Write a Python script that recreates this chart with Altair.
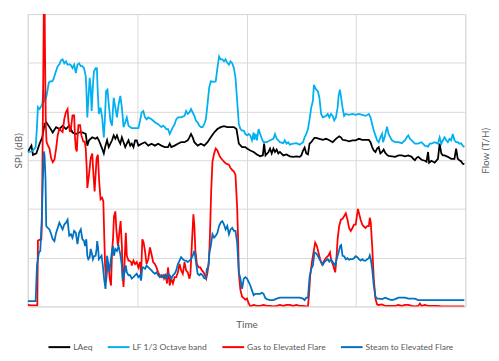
import altair as alt
import pandas as pd

SERIES = ["LAeq", "LF 1/3 Octave band", "Gas to Elevated Flare", "Steam to Elevated Flare"]
COLORS = ["#000000", "#00B0F0", "#FF0000", "#0070C0"]

# (time, value) pairs; y in gridline units (0-6)
LAEQ = [
    (0, 3.17), (3.7, 3.30), (5.3, 3.11), (8.7, 3.14), (12, 3.34), (14.7, 3.47), (17, 3.74), (18.7, 3.78),
    (22, 3.68), (25.3, 3.57), (28.7, 3.68), (32, 3.64), (35.3, 3.71), (38.7, 3.64), (42, 3.71), (45.3, 3.57),
    (48.7, 3.54), (52, 3.57), (55.3, 3.57), (58.7, 3.54), (60.3, 3.30), (62, 3.41), (65.3, 3.47), (68.7, 3.44),
    (70.3, 3.47), (72, 3.41), (75.3, 3.24), (77, 3.14), (78.7, 3.30), (80.3, 3.41), (82, 3.27), (85.3, 3.41),
    (87, 3.51), (88.7, 3.44), (90.3, 3.51), (92, 3.41), (93.7, 3.34), (95.3, 3.47), (97, 3.37), (98.7, 3.27),
    (100.3, 3.34), (102, 3.41), (103.7, 3.30), (105.3, 3.34), (107, 3.27), (108.7, 3.41), (110.3, 3.41),
    (112, 3.30), (115.3, 3.34), (118.7, 3.37), (122, 3.30), (125.3, 3.34), (128.7, 3.30), (132, 3.34),
    (135.3, 3.30), (138.7, 3.27), (142, 3.27), (143.7, 3.34), (145.3, 3.27), (148.7, 3.30), (152, 3.34),
    (155.3, 3.37), (158.7, 3.37), (162, 3.41), (163.7, 3.47), (165.3, 3.54), (167, 3.47), (168.7, 3.37),
    (172, 3.30), (175.3, 3.34), (178.7, 3.30), (182, 3.37), (185.3, 3.47), (188.7, 3.57), (192, 3.64),
    (195.3, 3.68), (198.7, 3.70), (202, 3.68), (205.3, 3.68), (208.7, 3.68), (211.3, 3.64), (213.7, 3.34),
    (217, 3.27), (220.3, 3.27), (222, 3.24), (225.3, 3.20), (228.7, 3.17), (232, 3.12), (235.3, 3.08),
    (238, 3.10), (239.3, 3.34), (240.7, 3.10), (243.7, 3.17), (245.3, 3.24), (247, 3.14), (248.7, 3.24),
    (250.3, 3.17), (252, 3.22), (253.7, 3.14), (255.3, 3.17), (258.7, 3.10), (262, 3.12), (265.3, 3.08),
    (268.7, 3.07), (272, 3.08), (275.3, 3.07), (277, 3.10), (278.7, 3.20), (280.3, 3.26), (282, 3.14),
    (283.7, 3.12), (285.3, 3.34), (287, 3.37), (288.7, 3.42), (290.3, 3.46), (292, 3.46), (295.3, 3.44),
    (298.7, 3.42), (302, 3.44), (305.3, 3.41), (308.7, 3.37), (312, 3.44), (315.3, 3.49), (317, 3.47),
    (318.7, 3.42), (322, 3.41), (325.3, 3.39), (328.7, 3.41), (332, 3.41), (335.3, 3.44), (338.7, 3.42),
    (342, 3.42), (345.3, 3.42), (347, 3.37), (348.7, 3.27), (350.3, 3.20), (352, 3.17), (353.7, 3.24),
    (355.3, 3.27), (357, 3.14), (358.7, 3.17), (360.3, 3.22), (362, 3.15), (363.7, 3.11), (365.3, 3.09),
    (368.7, 3.08), (372, 3.07), (375.3, 3.10), (378.7, 3.10), (382, 3.08), (385.3, 3.10), (388.7, 3.07),
    (390.3, 3.03), (392, 3.00), (393.7, 3.05), (395.3, 3.07), (398.7, 3.01), (402, 2.99), (403.7, 2.97),
    (405.3, 3.17), (406.3, 2.95), (408.7, 2.99), (412, 2.95), (415.3, 3.03), (417, 3.34), (418.7, 3.14),
    (420.3, 3.10), (422, 3.10), (425.3, 3.07), (428.7, 3.03), (432, 3.03), (433.7, 3.24), (435.3, 3.03),
    (437, 3.00), (438.7, 2.98), (440.3, 2.93), (442, 2.92),
]

LF = [
    (0, 3.17), (2, 3.17), (5.3, 3.20), (8, 3.27), (9.3, 3.68), (10.3, 4.09), (12, 4.05), (13.7, 4.11),
    (14.7, 4.15), (16, 4.45), (17, 4.22), (18, 4.25), (19.3, 4.35), (21.3, 4.59), (22.7, 4.62), (24.7, 4.62),
    (26, 4.66), (28, 4.79), (30.3, 4.93), (32, 4.97), (33.7, 5.05), (35.3, 5.07), (37, 4.99), (38.7, 5.03),
    (40.3, 4.96), (42, 4.97), (43.7, 4.95), (45.3, 4.89), (47, 4.96), (48.7, 4.79), (50.3, 4.96), (52, 4.99),
    (53.7, 4.93), (55.3, 4.93), (57, 4.89), (58.7, 4.72), (59.3, 4.49), (60.3, 3.88), (61.3, 4.22),
    (62.7, 4.69), (63.7, 4.49), (64.7, 4.01), (66, 4.55), (67, 4.82), (68.7, 4.89), (70, 4.89), (70.7, 4.49),
    (72, 3.95), (73.7, 4.08), (75.3, 3.88), (77, 3.47), (78, 3.81), (79.3, 4.42), (80.7, 4.45), (82, 4.15),
    (83.7, 3.81), (85.3, 3.71), (87, 4.28), (88.7, 4.08), (90.3, 3.88), (92, 4.15), (93.7, 4.32), (95.3, 4.08),
    (97, 3.68), (98.7, 3.78), (100.3, 3.88), (102, 3.71), (103.7, 3.68), (105.3, 3.66), (108.7, 3.66),
    (112, 3.66), (113.7, 3.81), (115.3, 3.98), (117, 4.01), (118.7, 3.88), (120.3, 3.84), (122, 3.88),
    (125.3, 3.84), (128.7, 3.78), (132, 3.74), (135.3, 3.68), (137, 3.71), (138.7, 3.68), (140.3, 3.64),
    (142, 3.64), (143.7, 3.54), (145.3, 3.61), (147, 3.68), (148.7, 3.74), (150.3, 3.84), (152, 3.88),
    (155.3, 3.88), (158.7, 3.91), (160.3, 4.01), (162, 3.95), (163.7, 3.98), (165.3, 4.05), (167, 3.98),
    (168.7, 3.91), (170.3, 3.81), (172, 3.78), (173.7, 3.71), (175.3, 3.68), (177, 3.68), (178.7, 3.74),
    (180.3, 3.84), (182, 4.15), (183.7, 4.49), (185.3, 4.62), (188.7, 4.61), (190.3, 4.62), (192, 4.89),
    (193.7, 5.13), (195.3, 5.07), (197, 5.07), (198.7, 5.03), (200.3, 5.07), (202, 5.00), (203.7, 4.96),
    (205.3, 5.03), (207, 4.99), (208.7, 4.89), (210.3, 4.69), (212, 4.22), (213.7, 3.74), (215.3, 3.64),
    (217, 3.61), (218.7, 3.61), (220.3, 3.54), (222, 3.51), (223.7, 3.54), (225.3, 3.51), (227, 3.41),
    (228.7, 3.57), (229.3, 3.42), (230.7, 3.54), (232, 3.41), (233.7, 3.64), (235.3, 3.54), (237, 3.44),
    (238.7, 3.37), (242, 3.37), (245.3, 3.41), (248.7, 3.44), (250.3, 3.54), (252, 3.44), (253.7, 3.41),
    (255.3, 3.37), (258.7, 3.35), (260.3, 3.41), (262, 3.34), (263.7, 3.37), (265.3, 3.32), (268.7, 3.34),
    (272, 3.35), (275.3, 3.32), (278.7, 3.37), (280.3, 3.47), (282, 3.54), (283.7, 3.64), (285.3, 3.84),
    (287, 4.08), (288.7, 4.22), (289.7, 4.55), (290.3, 4.52), (292, 4.45), (293.7, 4.42), (295.3, 4.28),
    (297, 3.95), (298.7, 3.88), (302, 3.91), (303.7, 3.95), (305.3, 3.88), (307, 3.95), (308.7, 3.91),
    (310.3, 3.82), (312, 3.88), (313.7, 4.08), (314.7, 4.32), (316, 4.45), (317, 4.32), (318.7, 4.08),
    (320.3, 3.91), (322, 3.95), (325.3, 3.93), (328.7, 3.95), (332, 3.93), (335.3, 3.95), (338.7, 3.93),
    (342, 3.91), (345.3, 3.95), (347, 3.88), (348.7, 3.74), (350.3, 3.61), (352, 3.51), (353.7, 3.41),
    (355.3, 3.37), (357, 3.47), (358.7, 3.54), (359.7, 3.37), (361.3, 3.47), (363.7, 3.69), (365.3, 3.54),
    (367, 3.47), (368.7, 3.41), (372, 3.37), (375.3, 3.37), (378.7, 3.35), (382, 3.41), (383.7, 3.47),
    (385.3, 3.51), (387, 3.44), (388.7, 3.41), (392, 3.34), (395.3, 3.34), (398.7, 3.37), (402, 3.30),
    (405.3, 3.28), (407, 3.34), (408.7, 3.34), (412, 3.37), (415.3, 3.34), (417, 3.47), (418.7, 3.34),
    (420.3, 3.41), (422, 3.47), (423.7, 3.41), (425.3, 3.37), (427, 3.44), (428.7, 3.41), (430.3, 3.54),
    (432, 3.41), (433.7, 3.37), (435.3, 3.37), (437, 3.34), (438.7, 3.35), (440.3, 3.30), (442, 3.27),
]

GAS = [
    (0, 0.03), (3.7, 0.02), (7, 0.02), (9.7, 0.02), (10.3, 1.35), (12, 1.37), (13.7, 1.37), (14.3, 1.69),
    (15, 3.18), (15.7, 4.73), (16.3, 6.3), (17, 6.3), (17.7, 4.73), (18.3, 3.72), (19, 3.38), (20.3, 3.31),
    (22, 3.24), (23.7, 3.04), (25.3, 2.96), (27, 3.01), (28.7, 3.24), (30.3, 3.51), (32, 3.65), (33.7, 3.61),
    (35.3, 3.58), (37, 3.85), (38.7, 3.99), (40.3, 4.05), (41.3, 3.78), (42.7, 3.58), (43.7, 3.65),
    (45.3, 3.92), (47, 3.92), (47.7, 3.51), (48.7, 3.24), (49.7, 3.18), (50.3, 3.45), (51.3, 3.72),
    (53, 3.72), (54.3, 3.51), (56.3, 3.38), (57.7, 3.38), (58.7, 3.24), (59.7, 2.84), (60.3, 2.43),
    (62, 2.70), (63.7, 3.04), (65.3, 3.14), (66.3, 2.77), (67.7, 2.36), (68.7, 2.70), (69.7, 3.04),
    (71, 3.11), (72.3, 2.57), (73.7, 2.20), (75.3, 2.23), (76.5, 2.16), (77.5, 1.40), (78.3, 0.84),
    (79.3, 0.50), (80.7, 0.87), (82, 0.80), (83, 0.57), (84.3, 0.43), (85.3, 1.11), (86.3, 1.38),
    (87.3, 1.85), (88.7, 1.95), (89.7, 1.58), (91.3, 1.24), (92.7, 1.51), (94, 1.75), (95.3, 1.24),
    (96, 0.64), (97, 0.40), (98, 0.91), (99.3, 1.51), (100.3, 1.04), (102, 0.94), (103, 0.94),
    (104.7, 0.91), (105.3, 0.84), (107, 0.94), (108.7, 0.87), (110.3, 0.91), (112, 0.80), (113.7, 0.91),
    (114.7, 0.64), (116, 1.38), (117.3, 1.31), (118.7, 1.14), (120.3, 0.87), (122, 0.97), (123.7, 1.21),
    (125.3, 1.07), (127, 0.91), (128.7, 0.87), (130.3, 0.80), (132, 0.70), (133.7, 0.64), (135.3, 0.60),
    (137, 0.64), (138, 0.57), (139.7, 0.64), (141, 0.47), (142, 0.80), (143, 0.60), (143.7, 0.43),
    (145.3, 0.57), (147, 0.47), (148.7, 0.60), (150.3, 0.60), (152, 0.70), (153.7, 0.87), (155.3, 0.74),
    (157, 0.67), (158.7, 0.91), (160.3, 0.74), (162, 0.70), (163.7, 0.57), (164.7, 0.67), (166.3, 1.34),
    (167.7, 1.89), (168.7, 1.65), (169.7, 1.14), (171.3, 0.87), (173, 0.80), (174.7, 0.80), (176.3, 0.74),
    (178, 0.70), (179.3, 0.64), (180.7, 0.57), (182, 0.70), (183.3, 0.90), (184.3, 1.35), (185.7, 2.36),
    (187, 2.97), (188.7, 3.14), (190.3, 3.24), (192, 3.20), (193.7, 3.11), (195.3, 3.05), (197, 3.01),
    (198.7, 2.97), (200.3, 2.94), (202, 2.92), (203.7, 2.91), (205.3, 2.84), (207, 2.80), (208.7, 2.77),
    (210.3, 2.70), (212, 2.03), (213, 1.35), (213.7, 0.68), (215.3, 0.34), (217, 0.20), (218.7, 0.17),
    (220.3, 0.14), (222, 0.16), (223.7, 0.06), (225.3, 0.0), (228.7, 0.03), (232, 0.01), (235.3, 0.01),
    (238.7, 0.03), (242, 0.01), (245.3, 0.01), (248.7, 0.0), (252, 0.01), (255.3, 0.03), (258.7, 0.01),
    (262, 0.03), (265.3, 0.03), (268.7, 0.01), (272, 0.03), (275.3, 0.01), (278.7, 0.01), (282, 0.0),
    (283.7, 0.0), (284.7, 0.23), (286, 0.64), (287.7, 0.91), (289.3, 1.11), (291, 1.31), (292.7, 1.24),
    (294.3, 1.11), (296, 0.97), (297.7, 0.87), (299.3, 0.91), (301, 0.97), (302.7, 1.01), (304.3, 1.04),
    (306, 1.11), (307, 0.97), (308, 0.91), (309.3, 0.84), (310.3, 0.77), (311.3, 0.70), (312.7, 1.04),
    (313.7, 1.38), (315.3, 1.65), (317, 1.78), (318.7, 1.80), (320.3, 1.85), (322, 1.91), (323.7, 1.78),
    (325.3, 1.61), (327, 1.55), (328.7, 1.61), (330.3, 1.68), (332, 1.68), (333, 1.82), (334.3, 2.00),
    (335.3, 1.92), (337, 1.78), (338.7, 1.68), (340.3, 1.64), (342, 1.61), (343.7, 1.65), (345.3, 1.65),
    (346.3, 1.82), (347.3, 1.72), (348.7, 1.24), (350.3, 0.57), (352, 0.16), (353.7, 0.04), (355.3, 0.03),
    (358.7, 0.04), (362, 0.01), (365.3, 0.01), (368.7, 0.01), (372, 0.01), (375.3, 0.03), (378.7, 0.01),
    (382, 0.03), (385.3, 0.03), (388.7, 0.01), (392, 0.0), (395.3, 0.01), (397, 0.06), (398.7, 0.01),
    (402, 0.03), (405.3, 0.01), (408.7, 0.01), (412, 0.01), (415.3, 0.01), (418.7, 0.0), (422, 0.0),
    (425.3, 0.0), (428.7, 0.0), (432, 0.0), (435.3, 0.0), (438.7, 0.0), (442, 0.0),
]

STEAM = [
    (0, 0.11), (8, 0.11), (9.3, 0.84), (10.3, 0.97), (11.3, 1.11), (12.7, 1.14), (14.3, 1.85), (15.3, 2.6),
    (16.3, 3.18), (17, 3.1), (18, 2.6), (18.7, 1.65), (20.3, 1.61), (22, 1.58), (23.7, 1.48), (25.3, 1.38),
    (27, 1.34), (28.7, 1.51), (30.3, 1.61), (32, 1.72), (33.7, 1.65), (35.3, 1.58), (37, 1.68), (38.7, 1.72),
    (40.3, 1.78), (42, 1.45), (43.7, 1.48), (45.3, 1.41), (47, 1.55), (48.7, 1.51), (50.3, 1.28), (52, 1.51),
    (53.7, 1.58), (55.3, 1.38), (57, 1.34), (58, 1.24), (59.3, 1.38), (60.3, 1.04), (61.3, 0.97),
    (62.7, 1.01), (63.7, 1.18), (64.7, 1.11), (66, 0.97), (67, 1.03), (68.7, 1.04), (69.7, 1.18),
    (70.3, 1.34), (71.3, 1.18), (72, 0.97), (73.7, 1.01), (74.7, 1.04), (76, 0.84), (77.3, 0.57),
    (78.7, 0.36), (79.3, 0.57), (80.3, 1.04), (81.3, 0.91), (82.7, 0.70), (84, 0.94), (85.3, 1.14),
    (86.3, 1.24), (87.3, 1.04), (88.7, 1.18), (90.3, 1.14), (92, 1.24), (93.7, 1.07), (95.3, 0.84),
    (96, 0.57), (97, 0.60), (98, 0.70), (99.3, 0.84), (100.3, 0.70), (102, 0.64), (103.7, 0.64),
    (105.3, 0.57), (107, 0.60), (108.7, 0.64), (110.3, 0.67), (112, 0.60), (113.7, 0.64), (114.7, 0.53),
    (116, 0.80), (117, 0.80), (118.7, 0.77), (120.3, 0.84), (122, 0.80), (123.7, 0.77), (125.3, 0.74),
    (127, 0.70), (128.7, 0.67), (130.3, 0.70), (132, 0.64), (133.7, 0.60), (135.3, 0.64), (137, 0.60),
    (138.7, 0.64), (140.3, 0.57), (142, 0.67), (143.7, 0.64), (145.3, 0.57), (147, 0.64), (148.7, 0.67),
    (150.3, 0.74), (152, 0.87), (153.7, 0.94), (155.3, 1.01), (157, 0.97), (158.7, 0.94), (160.3, 0.94),
    (162, 0.91), (163.7, 0.94), (165.3, 0.97), (167, 1.04), (168.7, 1.14), (170.3, 0.91), (172, 0.67),
    (173.7, 0.64), (175.3, 0.67), (177, 0.64), (178.7, 0.58), (180.3, 0.57), (181.3, 0.77), (182.7, 0.80),
    (184, 1.11), (185.3, 1.24), (187, 1.48), (188.7, 1.41), (190.3, 1.45), (192, 1.51), (193.7, 1.65),
    (195.3, 1.72), (197, 1.75), (198.7, 1.68), (200.3, 1.58), (202, 1.65), (203.7, 1.48), (205.3, 1.58),
    (207, 1.61), (208.7, 1.55), (210.3, 1.55), (212, 1.31), (213.7, 0.70), (215.3, 0.57), (217, 0.36),
    (218.7, 0.57), (220.3, 0.60), (222, 0.57), (223.7, 0.50), (225.3, 0.43), (227, 0.33), (228.7, 0.23),
    (230.3, 0.26), (232, 0.26), (235.3, 0.26), (237, 0.28), (238.7, 0.26), (240.3, 0.18), (242, 0.15),
    (245.3, 0.13), (248.7, 0.13), (252, 0.16), (255.3, 0.18), (258.7, 0.18), (262, 0.18), (265.3, 0.18),
    (268.7, 0.18), (272, 0.18), (275.3, 0.18), (278.7, 0.16), (280.3, 0.13), (282, 0.18), (283.7, 0.18),
    (285.3, 0.60), (287, 0.77), (288.7, 0.84), (290.3, 1.11), (292, 1.09), (293.7, 1.04), (295.3, 0.97),
    (297, 0.91), (298.7, 0.85), (300.3, 0.91), (302, 0.94), (303.7, 0.97), (305.3, 0.92), (307, 0.97),
    (308.7, 0.91), (310.3, 0.87), (311.3, 0.84), (312.7, 0.97), (314.7, 1.11), (316.3, 1.24), (317.3, 1.26),
    (318.7, 1.04), (320.3, 1.03), (322, 0.97), (323.7, 0.99), (325.3, 0.96), (327, 0.97), (328.7, 0.97),
    (330.3, 0.99), (332, 1.03), (333.7, 1.01), (335.3, 0.97), (337, 0.94), (338.7, 0.97), (340.3, 0.94),
    (342, 0.94), (343.7, 0.97), (345.3, 0.99), (346.3, 1.05), (347.3, 0.97), (348.7, 0.77), (350.3, 0.43),
    (352, 0.20), (353.7, 0.16), (355.3, 0.16), (358.7, 0.15), (362, 0.18), (365.3, 0.15), (368.7, 0.13),
    (372, 0.15), (375.3, 0.18), (378.7, 0.18), (382, 0.18), (385.3, 0.16), (388.7, 0.16), (392, 0.16),
    (395.3, 0.13), (398.7, 0.13), (402, 0.13), (412, 0.13), (422, 0.13), (432, 0.13), (442, 0.13),
]

X_GRID = [0, 110.75, 221.5, 332.25, 443]
Y_GRID = [0, 1, 2, 3, 4, 5, 6]

FONT = "Lato"
TXT = "#595959"
GRID = "#D9D9D9"


def frame(pairs, name):
    return pd.DataFrame({
        "time": [p[0] for p in pairs],
        "value": [p[1] for p in pairs],
        "series": name,
    })


color = alt.Color(
    "series:N",
    scale=alt.Scale(domain=SERIES, range=COLORS),
    legend=alt.Legend(
        title=None, orient="none", direction="horizontal", legendX=20, legendY=325,
        symbolType="stroke", symbolStrokeWidth=2, symbolSize=484,
        labelFont=FONT, labelFontSize=8.6, labelColor=TXT, labelOffset=2,
        columnPadding=11,
    ),
)

x = alt.X(
    "time:Q",
    scale=alt.Scale(domain=[0, 443], nice=False, zero=False),
    axis=alt.Axis(
        title="Time", values=X_GRID, labels=False, ticks=False, domain=False,
        grid=True, gridColor=GRID, gridWidth=1,
        titleFont=FONT, titleFontSize=10, titleFontWeight="normal", titleColor=TXT,
        titleY=21, titleBaseline="alphabetic",
    ),
)

y_left = alt.Y(
    "value:Q",
    scale=alt.Scale(domain=[0, 6], nice=False),
    axis=alt.Axis(
        title="SPL (dB)", values=Y_GRID, labels=False, ticks=False, domain=False,
        grid=True, gridColor=GRID, gridWidth=1,
        titleFont=FONT, titleFontSize=10, titleFontWeight="normal", titleColor=TXT,
        titleX=-4, titleY=138, titleAngle=270, titleBaseline="bottom",
    ),
)

y_right = alt.Y(
    "value:Q",
    scale=alt.Scale(domain=[0, 6], nice=False),
    axis=alt.Axis(
        title="Flow (T/H)", orient="right", values=Y_GRID, labels=False, ticks=False,
        domain=False, grid=False,
        titleFont=FONT, titleFontSize=10, titleFontWeight="normal", titleColor=TXT,
        titleX=25, titleY=138, titleAngle=270, titleBaseline="bottom",
    ),
)


def line(pairs, name, yenc):
    return alt.Chart(frame(pairs, name)).mark_line(strokeWidth=1.8, clip=True).encode(
        x=x, y=yenc, color=color
    )


left = alt.layer(line(LAEQ, SERIES[0], y_left), line(LF, SERIES[1], y_left))
right = alt.layer(line(GAS, SERIES[2], y_right), line(STEAM, SERIES[3], y_right))

chart = (
    alt.layer(left, right)
    .resolve_scale(y="independent")
    .properties(
        width=443, height=296, autosize="none",
        padding={"left": 20, "top": 4, "right": 26, "bottom": 45},
        background="white",
    )
    .configure_view(stroke=GRID, strokeWidth=1)
)

chart.save("out.html", embed_options={"renderer": "svg", "actions": False})
